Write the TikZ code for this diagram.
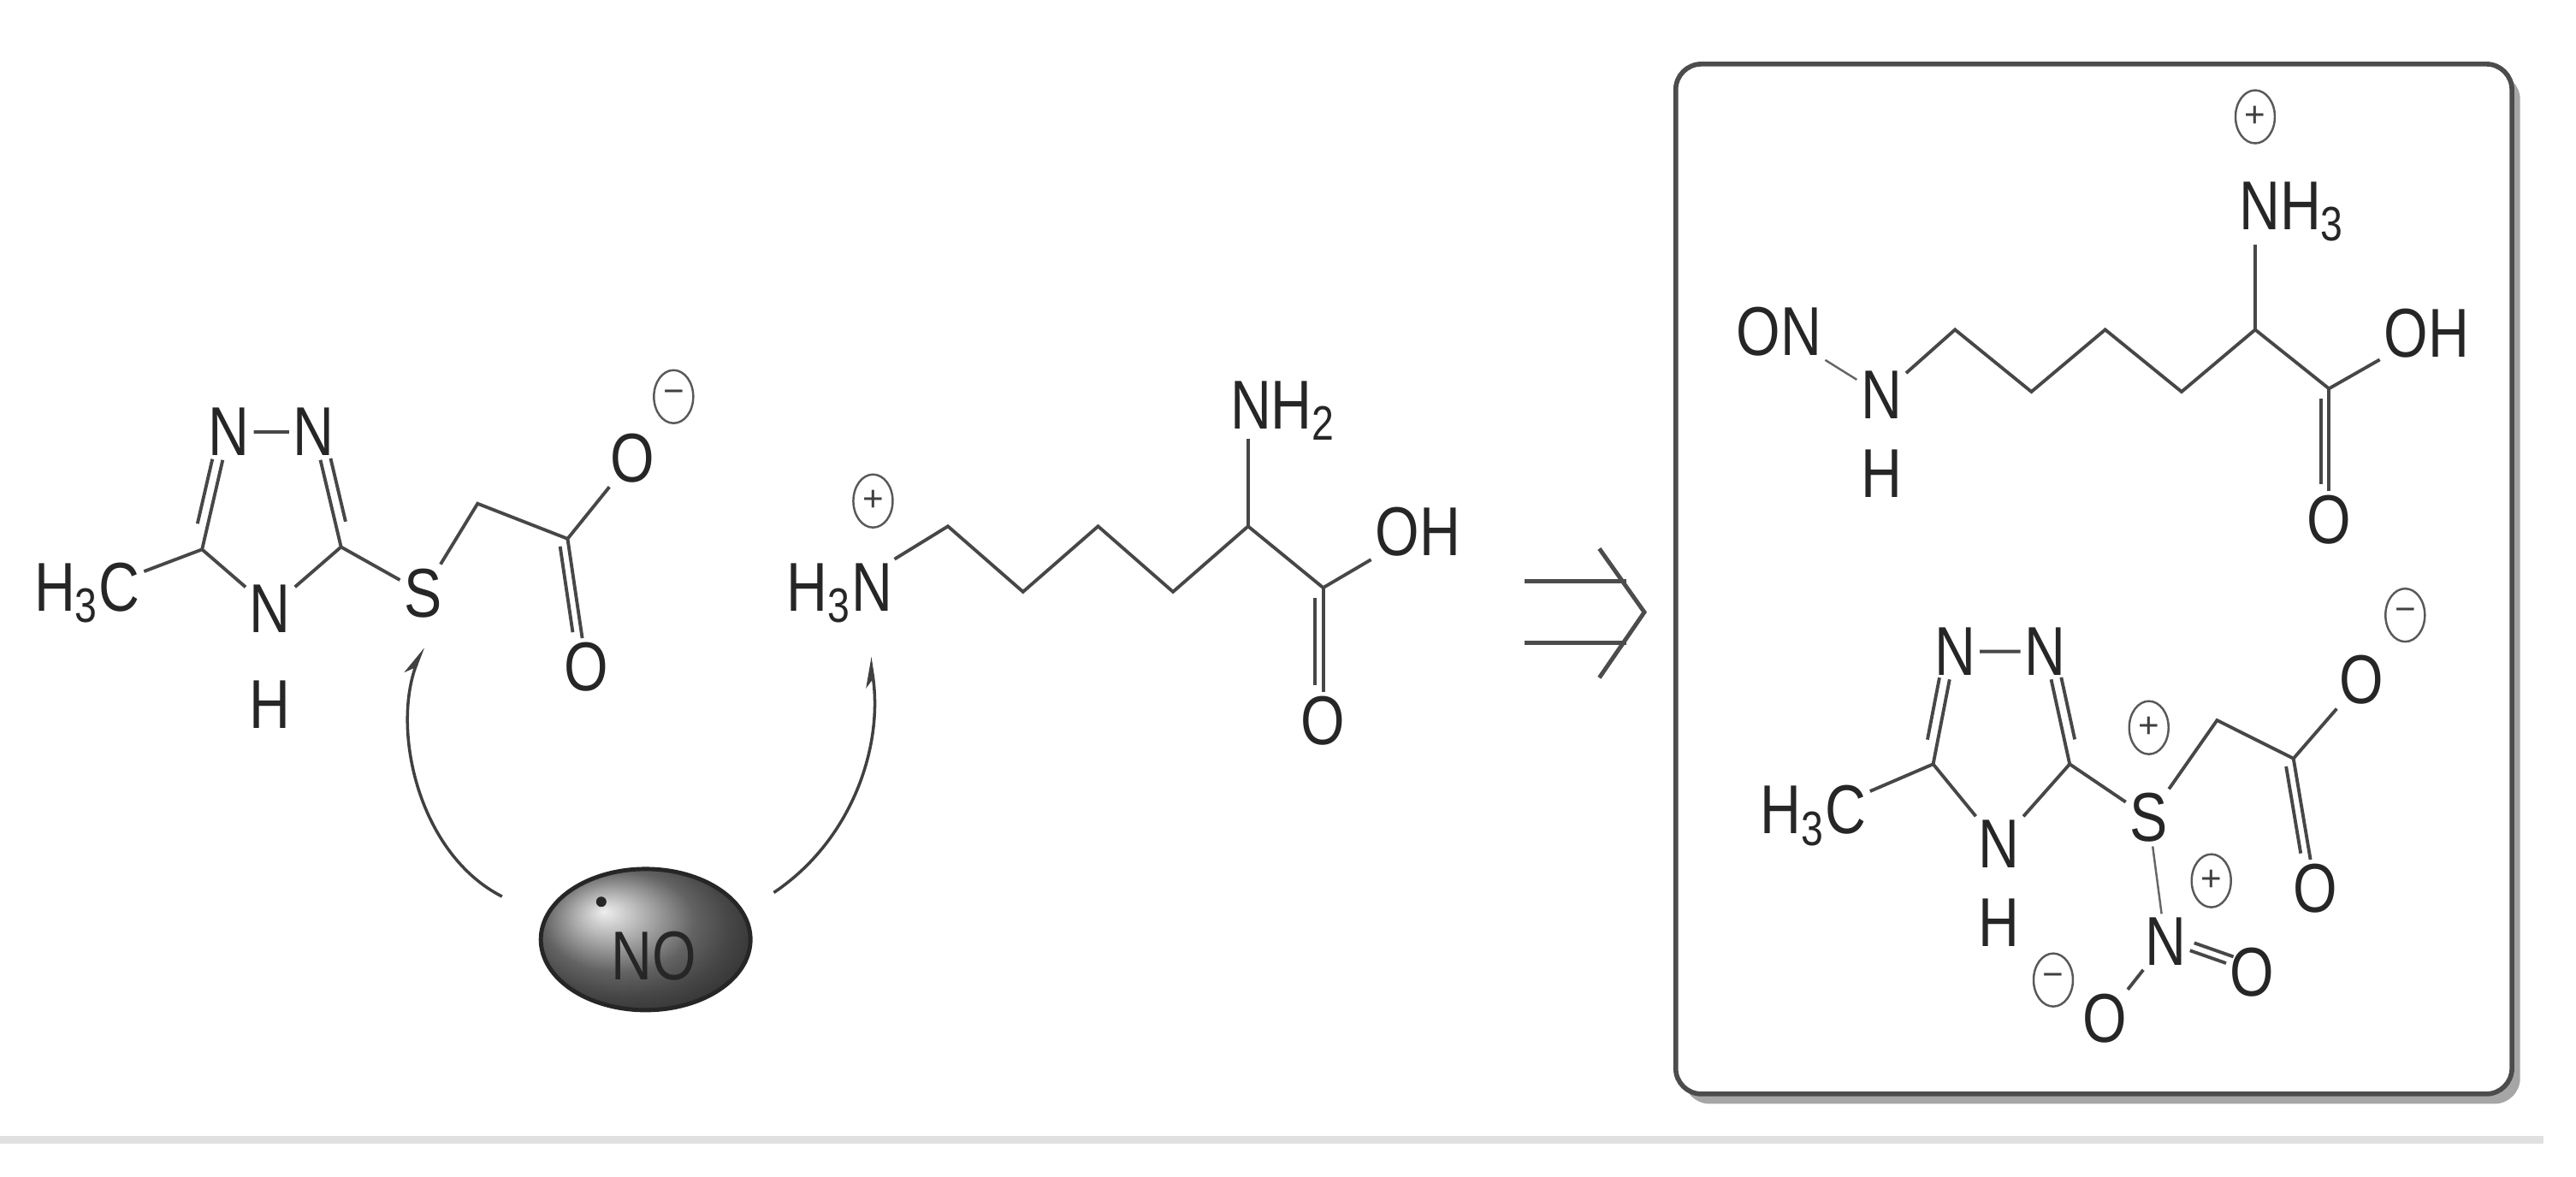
\documentclass[tikz,border=0pt]{standalone}
\usepackage{fontspec}
\setmainfont{Liberation Sans}
\newfontfamily\chemfont[FakeStretch=0.82]{Liberation Sans}
\usetikzlibrary{calc,arrows.meta,shapes.geometric}
\begin{document}
\begin{tikzpicture}[x=0.19203mm,y=-0.19203mm,
  atom/.style={font=\chemfont\fontsize{23}{25}\selectfont,inner sep=1.2pt,text=black!85},
  bond/.style={line width=1.1pt,draw=black!72},
  thinbond/.style={line width=0.7pt,draw=black!60},
  chgnode/.style={ellipse,draw=black!65,line width=0.7pt,minimum width=4.6mm,minimum height=6.2mm,inner sep=0pt,font=\fontsize{12}{12}\selectfont,text=black!75},
  curly/.style={line width=1.0pt,draw=black!75,-{Stealth[harpoon,length=3mm,width=2mm]}},
  retro/.style={line width=1.4pt,draw=black!70}]
\useasboundingbox (0,0) rectangle (1568,716.06);
\fill[white] (0,0) rectangle (1568,716.06);
\draw[black!12,line width=2.5pt] (0,694) -- (1548,694);

% ---------- left reagent ----------
\node[atom] (a_h3c) at (53,361) {H\textsubscript{3}C};
\coordinate (a_c5) at (123,334.5);
\node[atom] (a_n1) at (139.5,263) {N};
\node[atom] (a_n2) at (191,263) {N};
\coordinate (a_c3) at (207.6,333);
\node[atom] (a_n4) at (164.5,370.4) {N};
\node[atom] (a_h) at (164.5,429) {H};
\node[atom] (a_s) at (257.5,361) {S};
\coordinate (a_ch2) at (290.7,306.6);
\coordinate (a_cc) at (345.5,328);
\node[atom] (a_om) at (385,279) {O};
\node[chgnode] (a_q1) at (410,241.5) {\textminus};
\node[atom] (a_od) at (357,406) {O};
\draw[bond] (a_h3c) -- (a_c5) -- (a_n1) -- (a_n2) -- (a_c3) -- (a_n4) -- (a_c5);
\draw[bond] (a_c3) -- (a_s) -- (a_ch2) -- (a_cc) -- (a_om);
\draw[bond] (a_cc) -- (a_od);
\draw[bond] ($(a_c5)!0.2!(a_n1)!1.2mm!90:(a_n1)$) -- ($(a_c5)!0.75!(a_n1)!1.2mm!-90:(a_c5)$);
\draw[bond] ($(a_c3)!0.2!(a_n2)!1.2mm!-90:(a_n2)$) -- ($(a_c3)!0.75!(a_n2)!1.2mm!90:(a_c3)$);
\draw[bond] ($(a_cc)!0.05!(a_od)!1.0mm!-90:(a_od)$) -- ($(a_cc)!0.72!(a_od)!1.0mm!90:(a_cc)$);

% ---------- NO ball ----------
\node[ellipse,minimum width=24.5mm,minimum height=16.5mm,draw=black!85,line width=1.4pt,
      shade,ball color=black!45] (no) at (393,572) {};
\node[atom,text=black!85] (no_t) at (398,582) {NO};
\fill[black!85] (366,549) circle (0.6mm);
\coordinate (arrL) at (305.6,545.8);
\coordinate (arrR) at (471,543.4);
\coordinate (tipS) at (257.5,394);
\coordinate (tipN) at (529.5,400);
\draw[curly] (arrL) .. controls (255,520) and (238,445) .. (tipS);
\draw[curly] (arrR) .. controls (518,512) and (538,455) .. (tipN);

% ---------- lysine ----------
\node[atom] (l_n) at (511,361) {H\textsubscript{3}N};
\node[chgnode] (l_q) at (531.4,305) {+};
\coordinate (l_c1) at (577,320.4);
\coordinate (l_c2) at (622.7,360.3);
\coordinate (l_c3) at (668.4,320.4);
\coordinate (l_c4) at (714,360.3);
\coordinate (l_ca) at (759.7,320.4);
\node[atom] (l_nh2) at (781,250) {NH\textsubscript{2}};
\coordinate (l_nb) at (759.7,267);
\coordinate (l_cc) at (805.4,357.8);
\node[atom] (l_oh) at (863,324) {OH};
\node[atom] (l_od) at (805.4,438.7) {O};
\draw[bond] (l_n) -- (l_c1) -- (l_c2) -- (l_c3) -- (l_c4) -- (l_ca) -- (l_cc) -- (l_oh);
\draw[bond] (l_ca) -- (l_nb);
\draw[bond] (l_cc) -- (l_od);
\draw[bond] ($(l_cc)+(-5,6)$) -- ($(l_od.north)+(-5,-4)$);

% ---------- retrosynthetic arrow ----------
\coordinate (r_a1) at (928,354);
\coordinate (r_b1) at (990,354);
\coordinate (r_a2) at (928,391.4);
\coordinate (r_b2) at (990,391.4);
\coordinate (r_tip) at (1000.9,372.7);
\coordinate (r_h1) at (973.5,334);
\coordinate (r_h2) at (973.5,412.6);
\draw[retro] (r_a1) -- (r_b1);
\draw[retro] (r_a2) -- (r_b2);
\draw[retro,line join=miter] (r_h1) -- (r_tip) -- (r_h2);

% ---------- box ----------
\fill[black!35,rounded corners=3mm] (1025,45) rectangle (1534,672);
\draw[black!70,line width=1.6pt,fill=white,rounded corners=3mm] (1020,39) rectangle (1529,666);

% ---------- top product ----------
\node[atom] (p_on) at (1083,201.7) {ON};
\node[atom] (p_n) at (1145.2,240.5) {N};
\node[atom] (p_h) at (1145.2,288.4) {H};
\coordinate (p_c1) at (1190,200.7);
\coordinate (p_c2) at (1236.5,238.5);
\coordinate (p_c3) at (1281.4,200.7);
\coordinate (p_c4) at (1327.9,238.5);
\coordinate (p_ca) at (1372.7,200.7);
\node[atom] (p_nh3) at (1395,129) {NH\textsubscript{3}};
\node[chgnode] (p_q) at (1372.7,71.1) {+};
\coordinate (p_nb) at (1372.7,149);
\coordinate (p_cc) at (1417.6,236.6);
\node[atom] (p_oh) at (1477,202.7) {OH};
\node[atom] (p_od) at (1417.6,316.3) {O};
\draw[thinbond] (p_on) -- (p_n);
\draw[bond] (p_n) -- (p_c1) -- (p_c2) -- (p_c3) -- (p_c4) -- (p_ca) -- (p_cc) -- (p_oh);
\draw[bond] (p_ca) -- (p_nb);
\draw[bond] (p_cc) -- (p_od);
\draw[bond] ($(p_cc)+(-5,6)$) -- ($(p_od.north)+(-5,-4)$);

% ---------- bottom product ----------
\node[atom] (b_h3c) at (1103.6,496.6) {H\textsubscript{3}C};
\coordinate (b_c5) at (1176.7,465.2);
\node[atom] (b_n1) at (1190,396.6) {N};
\node[atom] (b_n2) at (1244.8,396.6) {N};
\coordinate (b_c3) at (1259.8,465.2);
\node[atom] (b_n4) at (1216.6,514) {N};
\node[atom] (b_h) at (1216.6,561.8) {H};
\node[atom] (b_s) at (1308,497.8) {S};
\node[chgnode] (b_qs) at (1308,443) {+};
\coordinate (b_ch2) at (1349.5,438.5);
\coordinate (b_cc) at (1396,461.8);
\node[atom] (b_om) at (1437.5,414) {O};
\node[chgnode] (b_qo) at (1464,374.5) {\textminus};
\node[atom] (b_od) at (1409.3,540.8) {O};
\node[atom] (b_nn) at (1318,573.4) {N};
\node[chgnode] (b_qn) at (1346,536.2) {+};
\node[atom] (b_ol) at (1281.4,619.9) {O};
\node[chgnode] (b_qol) at (1249.8,596.6) {\textminus};
\node[atom] (b_or) at (1371,592) {O};
\draw[bond] (b_h3c) -- (b_c5) -- (b_n1) -- (b_n2) -- (b_c3) -- (b_n4) -- (b_c5);
\draw[bond] (b_c3) -- (b_s) -- (b_ch2) -- (b_cc) -- (b_om);
\draw[bond] (b_cc) -- (b_od);
\draw[bond] ($(b_c5)!0.2!(b_n1)!1.2mm!90:(b_n1)$) -- ($(b_c5)!0.75!(b_n1)!1.2mm!-90:(b_c5)$);
\draw[bond] ($(b_c3)!0.2!(b_n2)!1.2mm!-90:(b_n2)$) -- ($(b_c3)!0.75!(b_n2)!1.2mm!90:(b_c3)$);
\draw[bond] ($(b_cc)!0.05!(b_od)!1.0mm!-90:(b_od)$) -- ($(b_cc)!0.72!(b_od)!1.0mm!90:(b_cc)$);
\draw[thinbond] (b_s) -- (b_nn);
\draw[bond] (b_nn) -- (b_ol);
\draw[bond] (b_nn) -- (b_or);
\draw[bond] ($(b_nn)!0.3!(b_or)!1.0mm!90:(b_or)$) -- ($(b_nn)!0.75!(b_or)!1.0mm!-90:(b_nn)$);
\end{tikzpicture}
\end{document}
